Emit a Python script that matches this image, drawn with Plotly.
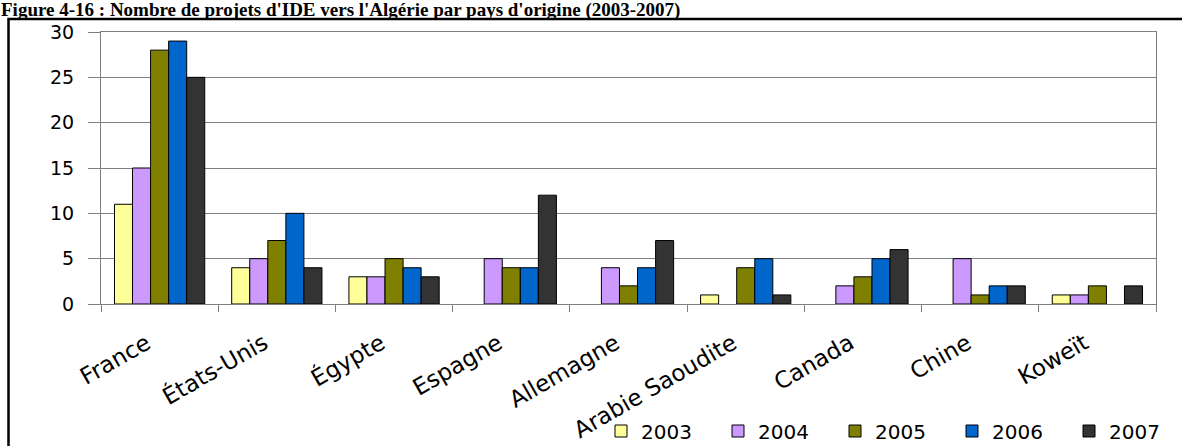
import plotly.graph_objects as go

countries = ["France", "États-Unis", "Égypte", "Espagne", "Allemagne",
             "Arabie Saoudite", "Canada", "Chine", "Koweït"]
years = ["2003", "2004", "2005", "2006", "2007"]
v2003 = [11, 4, 3, 0, 0, 1, 0, 0, 1]
v2004 = [15, 5, 3, 5, 4, 0, 2, 5, 1]
v2005 = [28, 7, 5, 4, 2, 4, 3, 1, 2]
v2006 = [29, 10, 4, 4, 4, 5, 5, 2, 0]
v2007 = [25, 4, 3, 12, 7, 1, 6, 2, 2]
series = [v2003, v2004, v2005, v2006, v2007]
colors = ["#FFFF99", "#CC99FF", "#808000", "#0066CC", "#333333"]
y_ticks = [0, 5, 10, 15, 20, 25, 30]
title = "Figure 4-16 : Nombre de projets d'IDE vers l'Algérie par pays d'origine (2003-2007)"

W, H = 1182, 446
L, R, T, B = 101, 26, 32, 142
pw, ph = W - L - R, H - T - B

def px_x(p):
    return (p - L) / pw

def px_y(p):
    return (H - B - p) / ph

fig = go.Figure()
for name, vals, col in zip(years, series, colors):
    fig.add_trace(go.Bar(
        x=countries, y=vals, name=name,
        marker=dict(color=col,
                    line=dict(color="black", width=[0 if v == 0 else 1 for v in vals]))))

font_main = "DejaVu Sans"
fig.update_layout(
    width=W, height=H,
    margin=dict(l=L, r=R, t=T, b=B, autoexpand=False),
    paper_bgcolor="white", plot_bgcolor="white",
    barmode="group", bargap=0.23, bargroupgap=0,
    showlegend=True,
    legend=dict(orientation="h", x=px_x(601), xanchor="left",
                y=px_y(431), yanchor="middle",
                font=dict(family=font_main, size=20, color="black"),
                entrywidth=72, entrywidthmode="pixels",
                bgcolor="rgba(0,0,0,0)", traceorder="normal"),
    font=dict(family=font_main, color="black"),
)
fig.update_xaxes(
    type="category", showgrid=False, showline=True, linecolor="#808080", linewidth=1,
    mirror=True, ticks="outside", tickson="boundaries", ticklen=7, tickcolor="#808080",
    tickangle=-30, tickfont=dict(family=font_main, size=23, color="black"),
    ticklabelshift=-13, ticklabelstandoff=16,
)
fig.update_yaxes(
    range=[0, 30], tickvals=y_ticks, showgrid=True, gridcolor="#808080", gridwidth=1,
    showline=True, linecolor="#808080", linewidth=1, mirror=True,
    ticks="outside", ticklen=12, tickcolor="#808080",
    tickfont=dict(family=font_main, size=19, color="black"),
    ticklabelstandoff=10, zeroline=False,
)
# outer frame of the figure box
fig.add_shape(type="rect", xref="paper", yref="paper",
              x0=px_x(8.5), x1=px_x(1195), y0=px_y(460), y1=px_y(19),
              line=dict(color="black", width=2.5), fillcolor="rgba(0,0,0,0)", layer="above")
fig.add_annotation(text="<b>" + title + "</b>", xref="paper", yref="paper",
                   x=px_x(0), xanchor="left", y=px_y(-2), yanchor="top",
                   showarrow=False, borderpad=0,
                   font=dict(family="Liberation Serif", size=19, color="black"))

fig.write_html("out.html", config={"displayModeBar": False},
               post_script="document.body.style.margin='0';")
